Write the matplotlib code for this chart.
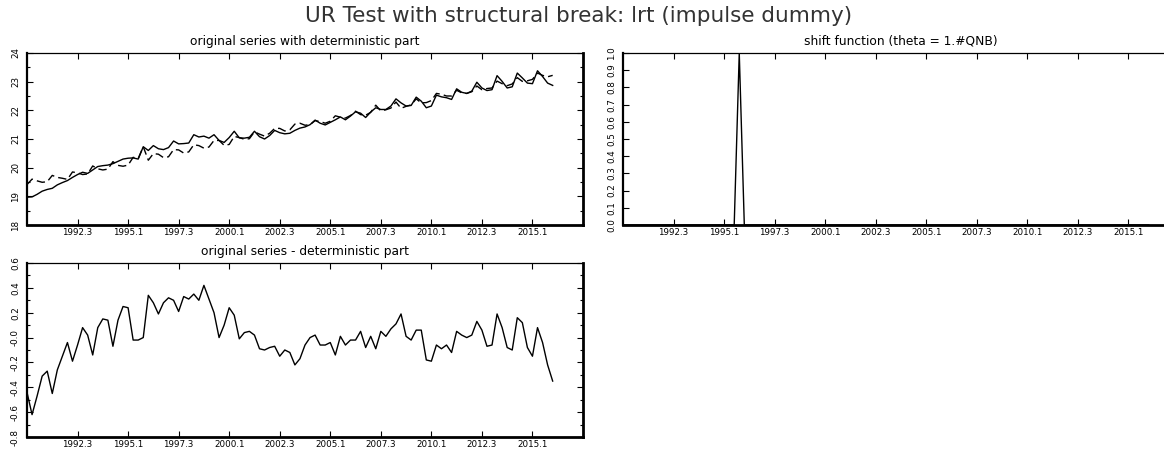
import matplotlib
matplotlib.use("Agg")
import matplotlib.pyplot as plt
import numpy as np

plt.rcParams["font.family"] = "DejaVu Sans"

# quarterly observations 1990.1 ... 2016.1
start_year = 1990
n_obs = 105

level = [18.97, 18.98, 19.07, 19.18, 19.24, 19.28, 19.40, 19.48, 19.55, 19.66,
         19.76, 19.84, 19.80, 19.92, 20.04, 20.07, 20.09, 20.14, 20.22, 20.30,
         20.33, 20.34, 20.30, 20.73, 20.60, 20.77, 20.66, 20.63, 20.70, 20.93,
         20.83, 20.84, 20.86, 21.15, 21.07, 21.10, 21.03, 21.15, 20.95, 20.88,
         21.05, 21.27, 21.04, 21.03, 21.06, 21.27, 21.08, 21.00, 21.12, 21.30,
         21.22, 21.18, 21.20, 21.30, 21.38, 21.42, 21.50, 21.66, 21.55, 21.49,
         21.58, 21.67, 21.77, 21.67, 21.80, 21.95, 21.90, 21.75, 21.94, 22.09,
         22.03, 22.03, 22.15, 22.40, 22.26, 22.15, 22.17, 22.46, 22.32, 22.09,
         22.15, 22.53, 22.47, 22.44, 22.38, 22.75, 22.63, 22.59, 22.67, 22.98,
         22.78, 22.69, 22.72, 23.21, 23.01, 22.78, 22.82, 23.30, 23.13, 22.95,
         22.93, 23.38, 23.18, 22.95, 22.87]

resid = [-0.44, -0.62, -0.47, -0.31, -0.27, -0.45, -0.26, -0.15, -0.04, -0.19,
         -0.06, 0.08, 0.02, -0.14, 0.08, 0.15, 0.14, -0.07, 0.14, 0.25,
         0.24, -0.02, -0.02, 0.00, 0.34, 0.28, 0.19, 0.28, 0.32, 0.30,
         0.21, 0.33, 0.31, 0.35, 0.30, 0.42, 0.31, 0.20, 0.00, 0.10,
         0.24, 0.18, -0.01, 0.04, 0.05, 0.02, -0.09, -0.10, -0.08, -0.07,
         -0.15, -0.10, -0.12, -0.22, -0.17, -0.06, 0.00, 0.02, -0.06, -0.06,
         -0.04, -0.14, 0.01, -0.06, -0.02, -0.02, 0.05, -0.08, 0.01, -0.09,
         0.05, 0.01, 0.07, 0.11, 0.19, 0.01, -0.02, 0.06, 0.06, -0.18,
         -0.19, -0.06, -0.09, -0.06, -0.12, 0.05, 0.02, 0.00, 0.02, 0.13,
         0.06, -0.07, -0.06, 0.19, 0.08, -0.08, -0.10, 0.16, 0.12, -0.08,
         -0.15, 0.08, -0.04, -0.22, -0.35]

# impulse dummy, break at 1995.4
shift = [0.0] * 23 + [1.0] + [0.0] * 81

tick_labels = ["1992.3", "1995.1", "1997.3", "2000.1", "2002.3",
               "2005.1", "2007.3", "2010.1", "2012.3", "2015.1"]

# deterministic part = original series minus the plotted difference
determ = np.array(level) - np.array(resid)

periods = [f"{start_year + k // 4}.{k % 4 + 1}" for k in range(n_obs)]
t = np.arange(n_obs)
tick_pos = [periods.index(lab) for lab in tick_labels]

W, H = 1164, 451
fig = plt.figure(figsize=(W / 100, H / 100), dpi=100)
fig.patch.set_facecolor("white")


def px_axes(x0, y0, x1, y1):
    return fig.add_axes([x0 / W, 1 - y1 / H, (x1 - x0) / W, (y1 - y0) / H])


def style(ax, ymin, ymax, major, minor, labels):
    ax.set_xlim(0, 110)
    ax.set_ylim(ymin, ymax)
    ax.set_xticks(tick_pos)
    ax.set_xticklabels(tick_labels)
    yt = np.round(np.arange(ymin, ymax + major / 2, major), 3)
    ax.set_yticks(yt)
    ax.set_yticklabels(labels)
    if minor:
        ax.set_yticks(np.round(np.arange(ymin, ymax + minor / 2, minor), 3), minor=True)
    ax.tick_params(which="both", direction="in", top=True, right=True,
                   width=0.8, labelsize=6.3)
    ax.tick_params(which="major", length=4)
    ax.tick_params(which="minor", length=2.5)
    ax.tick_params(axis="x", pad=2)
    ax.tick_params(axis="y", labelrotation=90, pad=5)
    for lab in ax.get_yticklabels():
        lab.set_va("center")
    ax.spines["top"].set_linewidth(0.9)
    ax.spines["top"].set_linestyle((0, (1, 1)))
    ax.spines["left"].set_linewidth(1.6)
    ax.spines["bottom"].set_linewidth(2.0)
    ax.spines["right"].set_linewidth(2.0)


# top left: original series with deterministic part
ax1 = px_axes(27, 53, 583, 225)
ax1.plot(t, determ, color="black", lw=1.0, dashes=(6, 3))
ax1.plot(t, level, color="black", lw=1.0)
style(ax1, 18, 24, 1, 0.5, [str(v) for v in range(18, 25)])
ax1.set_title("original series with deterministic part", fontsize=8.8, pad=6)

# top right: shift function
ax2 = px_axes(623, 53, 1179, 225)
ax2.plot(t, shift, color="black", lw=1.0)
style(ax2, 0, 1, 0.1, None, [f"{v / 10:.1f}" for v in range(11)])
ax2.set_title("shift function (theta = 1.#QNB)", fontsize=8.8, pad=6)

# bottom left: original series - deterministic part
ax3 = px_axes(27, 263, 583, 437)
ax3.plot(t, resid, color="black", lw=1.0)
style(ax3, -0.8, 0.6, 0.2, 0.1,
      ["-0.8", "-0.6", "-0.4", "-0.2", "-0.0", "0.2", "0.4", "0.6"])
ax3.set_title("original series - deterministic part", fontsize=8.8, pad=6)

fig.text(0.497, 0.965, "UR Test with structural break: lrt (impulse dummy)",
         ha="center", va="center", fontsize=15.5, color="#333333")

fig.savefig("out.png", dpi=100, facecolor="white")
